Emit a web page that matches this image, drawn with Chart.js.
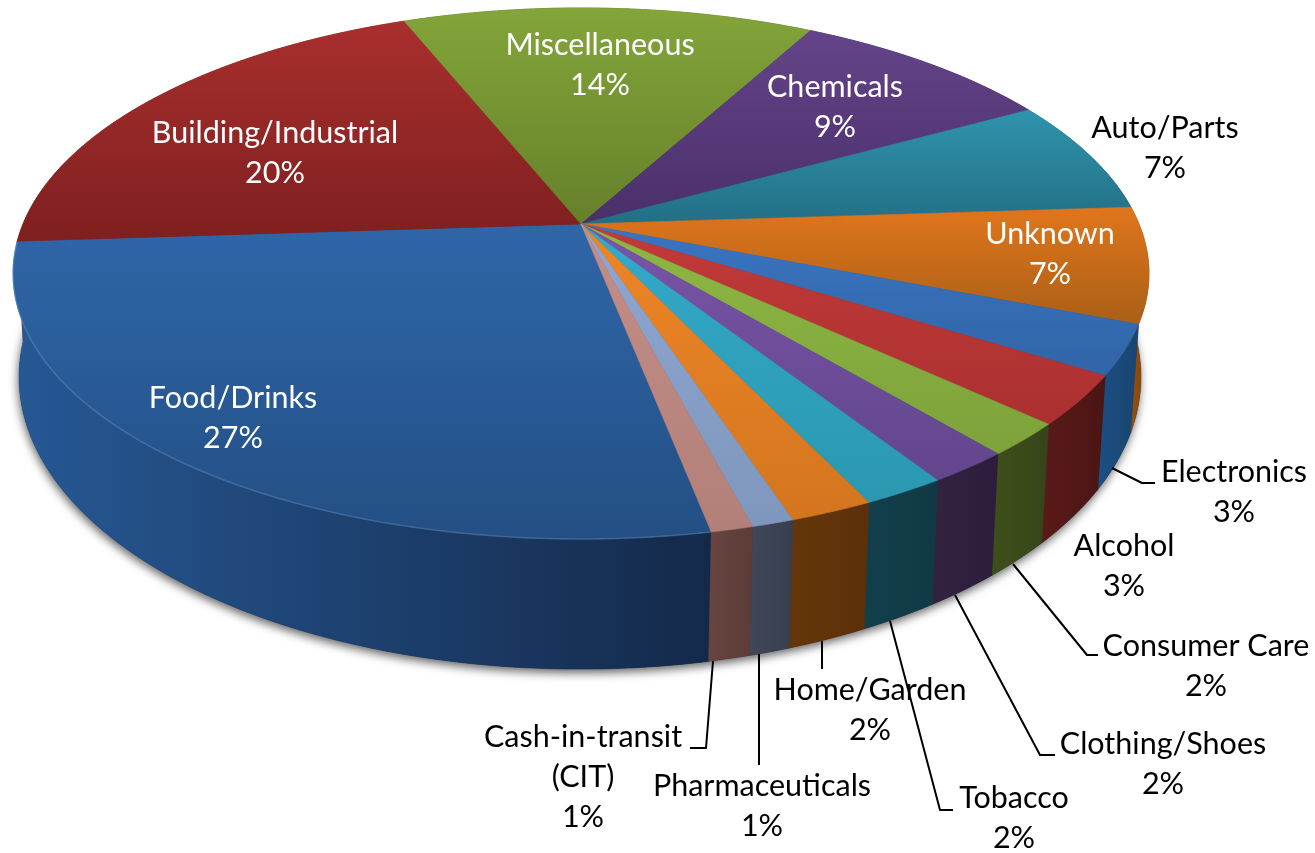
<!DOCTYPE html>
<html>
<head>
<meta charset="utf-8">
<title>Incidents by product category</title>
<script src="https://cdn.jsdelivr.net/npm/chart.js@4/dist/chart.umd.min.js"></script>
<style>
  html, body { margin: 0; padding: 0; background: #fff; }
  canvas { display: block; }
</style>
</head>
<body>
<canvas id="pie" width="1315" height="853"></canvas>
<script>
// Chart values
const categories = ['Food/Drinks', 'Building/Industrial', 'Miscellaneous', 'Chemicals', 'Auto/Parts', 'Unknown',
  'Electronics', 'Alcohol', 'Consumer Care', 'Clothing/Shoes', 'Tobacco', 'Home/Garden', 'Pharmaceuticals', 'Cash-in-transit (CIT)'];
const shares = [27, 20, 14, 9, 7, 7, 3, 3, 2, 2, 2, 2, 1, 1];

// Label lines per slice (the percentage is appended as the last line)
const labelLines = [['Food/Drinks'], ['Building/Industrial'], ['Miscellaneous'], ['Chemicals'], ['Auto/Parts'], ['Unknown'],
  ['Electronics'], ['Alcohol'], ['Consumer Care'], ['Clothing/Shoes'], ['Tobacco'], ['Home/Garden'], ['Pharmaceuticals'], ['Cash-in-transit', '(CIT)']];

// Slice styling: top face runs light to dark, side wall runs left to right
const faceLight = ['#2f66a8', '#a82f2e', '#83a53a', '#644489', '#2f94ac', '#e0761c', '#3a74c2', '#c23a39', '#8db844', '#7a54a8', '#33a9c9', '#ee8526', '#8fa8d2', '#c48e88'];
const faceDark  = ['#234f84', '#7f1f1f', '#66802a', '#4a2f6a', '#226f85', '#aa5f17', '#3065a6', '#ab3030', '#7da23a', '#62468c', '#2b98b0', '#d4761f', '#7f96bd', '#b27f79'];
const wallLeft  = ['#265894', '#7d2b1a', '#4d6620', '#33204f', '#155063', '#a0560f', '#1c4f85', '#5a1a18', '#3e4f1a', '#33223f', '#123f4c', '#653609', '#3f4758', '#674540'];
const wallRight = ['#14294a', '#7d2b1a', '#4d6620', '#33204f', '#155063', '#7c430c', '#19456f', '#4a1514', '#36451a', '#2c1d3e', '#113945', '#5c3009', '#38404f', '#5c3c38'];

// Label placement, leader routing and the projected disc
const labelCenters = [[233, 398], [275, 133], [600, 45], [835, 87], [1165, 128], [1050, 234], [1234, 472],
  [1124, 546], [1206, 646], [1163, 744], [1014, 798], [870, 690], [762, 786], [583, 737]];
const labelInk = ['#fff', '#fff', '#fff', '#fff', '#000', '#fff', '#000', '#000', '#000', '#000', '#000', '#000', '#000', '#000'];
const leaderRoutes = [
  [[1112, 468], [1142, 483], [1155, 483]],
  [[1013, 564], [1087, 655], [1098, 655]],
  [[955, 595], [1040, 755], [1055, 755]],
  [[890, 621], [940, 810], [953, 810]],
  [[822, 641], [822, 669]],
  [[759, 654], [759, 765]],
  [[713, 661], [706, 748], [690, 748]]
];
const disc = { cx: 581, cy: 224, a: 558, b: 256.3, k: 0.1864 };
const wall = { cx: 580, shrink: 0.9877, stretch: 1.1, drop: 76.2 };
const FONT = '30.5px Lato';
const LINE_GAP = 40;

// Perspective projection of a point on the rim of the unit disc
function rim(angle) {
  const u = Math.cos(angle), v = Math.sin(angle), w = 1 - disc.k * v;
  return [disc.cx + disc.a * u / w, disc.cy + disc.b * v / w];
}
// The same rim point on the underside of the disc
function underside(p) {
  return [wall.cx + (p[0] - disc.cx) * wall.shrink, p[1] * wall.stretch + wall.drop];
}
function rimPoints(start, end) {
  const steps = Math.max(2, Math.ceil((end - start) / (Math.PI / 360)));
  const pts = [];
  for (let i = 0; i <= steps; i++) pts.push(rim(start + (end - start) * i / steps));
  return pts;
}
function tracePolygon(ctx, pts) {
  ctx.beginPath();
  pts.forEach((p, i) => i ? ctx.lineTo(p[0], p[1]) : ctx.moveTo(p[0], p[1]));
  ctx.closePath();
}

// Replaces the flat arcs with a tilted disc built from the angles Chart.js computed
const tiltedDisc = {
  id: 'tiltedDisc',
  beforeDatasetsDraw(chart) {
    const ctx = chart.ctx;
    const arcs = chart.getDatasetMeta(0).data;
    const slices = arcs.map((arc, i) => ({ i, start: arc.startAngle, end: arc.endAngle, mid: (arc.startAngle + arc.endAngle) / 2 }));

    // Soft ground shadow under the whole body
    ctx.save();
    ctx.shadowColor = 'rgba(0,0,0,0.6)';
    ctx.shadowBlur = 10;
    ctx.shadowOffsetX = -1;
    ctx.shadowOffsetY = 4;
    ctx.fillStyle = '#222';
    tracePolygon(ctx, rimPoints(0, Math.PI * 2).map(underside));
    ctx.fill();
    ctx.restore();

    // Side wall, back to front
    [...slices].sort((a, b) => Math.sin(a.mid) - Math.sin(b.mid)).forEach(s => {
      const top = rimPoints(s.start, s.end);
      const poly = top.concat(top.map(underside).reverse());
      const xs = poly.map(p => p[0]);
      const g = ctx.createLinearGradient(Math.min(...xs), 0, Math.max(...xs), 0);
      g.addColorStop(0, wallLeft[s.i]);
      g.addColorStop(1, wallRight[s.i]);
      tracePolygon(ctx, poly);
      ctx.fillStyle = g;
      ctx.strokeStyle = g;
      ctx.lineWidth = 0.6;
      ctx.fill();
      ctx.stroke();
    });

    // Top face
    slices.forEach(s => {
      const poly = [[disc.cx, disc.cy]].concat(rimPoints(s.start, s.end));
      const ys = poly.map(p => p[1]);
      const g = ctx.createLinearGradient(0, Math.min(...ys), 0, Math.max(...ys));
      g.addColorStop(0, faceLight[s.i]);
      g.addColorStop(1, faceDark[s.i]);
      tracePolygon(ctx, poly);
      ctx.fillStyle = g;
      ctx.strokeStyle = g;
      ctx.lineWidth = 0.6;
      ctx.fill();
      ctx.stroke();
    });

    // Faint highlight along the front rim of the largest slice
    ctx.save();
    ctx.beginPath();
    rimPoints(slices[0].start, slices[0].end).forEach((p, i) => i ? ctx.lineTo(p[0], p[1]) : ctx.moveTo(p[0], p[1]));
    ctx.strokeStyle = 'rgba(190,215,255,0.2)';
    ctx.lineWidth = 1.6;
    ctx.stroke();
    ctx.restore();

    return false;
  },
  afterDraw(chart) {
    const ctx = chart.ctx;
    // Leader lines
    ctx.save();
    ctx.strokeStyle = '#000';
    ctx.lineWidth = 2;
    ctx.lineJoin = 'round';
    leaderRoutes.forEach(route => {
      ctx.beginPath();
      route.forEach((p, i) => i ? ctx.lineTo(p[0], p[1]) : ctx.moveTo(p[0], p[1]));
      ctx.stroke();
    });
    // Category name and percentage
    ctx.font = FONT;
    ctx.textAlign = 'center';
    ctx.textBaseline = 'middle';
    labelLines.forEach((lines, i) => {
      const [x, y] = labelCenters[i];
      ctx.fillStyle = labelInk[i];
      lines.concat(shares[i] + '%').forEach((text, n) => ctx.fillText(text, x, y + n * LINE_GAP));
    });
    ctx.restore();
  }
};

new Chart(document.getElementById('pie'), {
  type: 'pie',
  data: { labels: categories, datasets: [{ data: shares, backgroundColor: faceLight, borderWidth: 0 }] },
  options: {
    responsive: false,
    animation: false,
    rotation: 169,
    plugins: { legend: { display: false }, tooltip: { enabled: false } }
  },
  plugins: [tiltedDisc]
});
</script>
</body>
</html>
